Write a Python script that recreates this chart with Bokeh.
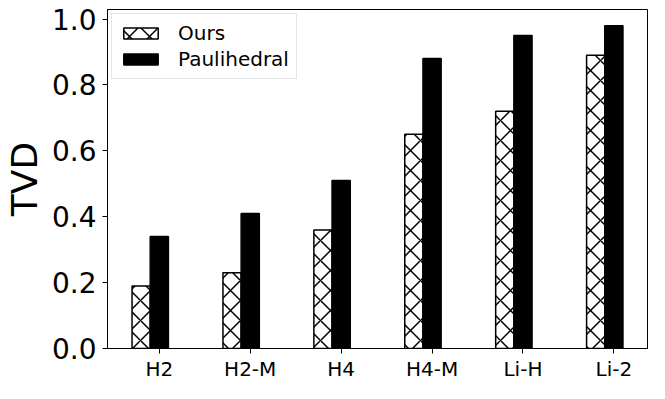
from bokeh.plotting import figure
from bokeh.models import ColumnDataSource, Range1d, FixedTicker, Legend, LegendItem, PrintfTickFormatter
from bokeh.embed import file_html
from bokeh.resources import INLINE

categories = ["H2", "H2-M", "H4", "H4-M", "Li-H", "Li-2"]
ours = [0.19, 0.23, 0.36, 0.65, 0.72, 0.89]
paulihedral = [0.34, 0.41, 0.51, 0.88, 0.95, 0.98]
y_ticks = [0.0, 0.2, 0.4, 0.6, 0.8, 1.0]

bar_w = 0.2
xpos = list(range(len(categories)))
src = ColumnDataSource(dict(
    x_ours=[i - bar_w for i in xpos],
    x_paul=xpos,
    ours=ours,
    paul=paulihedral,
))

FONT = "DejaVu Sans"

p = figure(width=649, height=383, output_backend="svg", toolbar_location=None,
           x_range=Range1d(-0.57, 5.37), y_range=Range1d(0, 1.029),
           min_border_left=0, min_border_right=2, min_border_top=9, min_border_bottom=0)

r1 = p.vbar(x="x_ours", top="ours", width=bar_w, source=src,
            fill_color="white", line_color="black", line_width=1.5,
            hatch_pattern="x", hatch_color="black", hatch_weight=1.5, hatch_scale=20)
r2 = p.vbar(x="x_paul", top="paul", width=bar_w, source=src,
            fill_color="black", line_color="black", line_width=1.5)

p.xgrid.visible = False
p.ygrid.visible = False
p.outline_line_color = "black"
p.outline_line_width = 1

p.xaxis.ticker = FixedTicker(ticks=xpos)
p.xaxis.major_label_overrides = {i: c for i, c in enumerate(categories)}
p.yaxis.ticker = FixedTicker(ticks=y_ticks)
p.yaxis.formatter = PrintfTickFormatter(format="%.1f")

for ax in (p.xaxis[0], p.yaxis[0]):
    ax.axis_line_color = "black"
    ax.major_tick_line_color = "black"
    ax.major_tick_in = 0
    ax.major_tick_out = 5
    ax.minor_tick_line_color = None
    ax.major_label_text_font = FONT
    ax.major_label_text_color = "black"

p.xaxis.major_label_text_font_size = "20px"
p.xaxis.major_label_standoff = 3
p.yaxis.major_label_text_font_size = "28px"
p.yaxis.major_label_standoff = 6
p.yaxis.axis_label = "TVD"
p.yaxis.axis_label_text_font = FONT
p.yaxis.axis_label_text_font_size = "36px"
p.yaxis.axis_label_text_font_style = "normal"
p.yaxis.axis_label_text_color = "black"
p.yaxis.axis_label_standoff = 4

legend = Legend(items=[LegendItem(label="Ours", renderers=[r1]),
                       LegendItem(label="Paulihedral", renderers=[r2])],
                location="top_left", margin=4, padding=7, spacing=2,
                glyph_width=43, glyph_height=14, label_standoff=16,
                label_text_font=FONT, label_text_font_size="20px",
                label_text_color="black", label_height=24,
                border_line_color="#cccccc", border_line_width=1,
                background_fill_color="white", background_fill_alpha=0.8)
p.add_layout(legend)

open("out.html", "w").write(file_html(p, INLINE))
